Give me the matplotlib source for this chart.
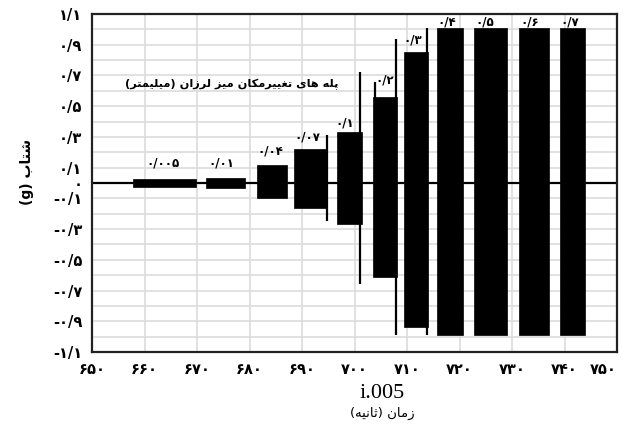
import matplotlib
matplotlib.use("Agg")
import matplotlib.pyplot as plt

# ---------------- data ----------------
burst_start = [657.8, 671.7, 681.4, 688.5, 696.7, 703.6, 709.4, 715.7, 722.8, 731.3, 739.1]
burst_end   = [669.8, 679.1, 687.1, 694.8, 701.4, 708.0, 714.0, 720.7, 729.0, 737.0, 743.9]
burst_upper = [0.025, 0.033, 0.115, 0.22, 0.33, 0.56, 0.85, 1.01, 1.01, 1.01, 1.01]
burst_lower = [-0.025, -0.033, -0.10, -0.16, -0.27, -0.61, -0.94, -0.99, -0.99, -0.99, -0.99]

spike_x  = [694.8, 701.1, 703.9, 707.9, 713.8]
spike_hi = [0.31, 0.72, 0.66, 0.94, 1.01]
spike_lo = [-0.25, -0.66, -0.55, -0.99, -0.99]

burst_labels = ["۰/۰۰۵", "۰/۰۱", "۰/۰۴", "۰/۰۷", "۰/۱", "۰/۲", "۰/۳", "۰/۴", "۰/۵", "۰/۶", "۰/۷"]
label_x = [663.5, 674.6, 683.9, 691.1, 698.2, 705.8, 711.0, 717.6, 724.9, 733.4, 741.0]
label_y = [0.13, 0.13, 0.21, 0.30, 0.39, 0.67, 0.93, 1.05, 1.05, 1.05, 1.05]

xticks = [650, 660, 670, 680, 690, 700, 710, 720, 730, 740, 750]
xtick_labels = ["۶۵۰", "۶۶۰", "۶۷۰", "۶۸۰", "۶۹۰", "۷۰۰", "۷۱۰", "۷۲۰", "۷۳۰", "۷۴۰", "۷۵۰"]
yticks = [-1.1, -0.9, -0.7, -0.5, -0.3, -0.1, 0.0, 0.1, 0.3, 0.5, 0.7, 0.9, 1.1]
ytick_labels = ["-۱/۱", "-۰/۹", "-۰/۷", "-۰/۵", "-۰/۳", "-۰/۱", "۰",
                "۰/۱", "۰/۳", "۰/۵", "۰/۷", "۰/۹", "۱/۱"]

title_text = "پله های تغییرمکان میز لرزان (میلیمتر)"
xlabel_text = "زمان (ثانیه)"
ylabel_text = "شتاب (g)"

# ---------------- minimal Persian shaping ----------------
FORMS = {
    'ا': ('\uFE8D', '\uFE8E', None, None),
    'ب': ('\uFE8F', '\uFE90', '\uFE91', '\uFE92'),
    'ت': ('\uFE95', '\uFE96', '\uFE97', '\uFE98'),
    'ث': ('\uFE99', '\uFE9A', '\uFE9B', '\uFE9C'),
    'ر': ('\uFEAD', '\uFEAE', None, None),
    'ز': ('\uFEAF', '\uFEB0', None, None),
    'ش': ('\uFEB5', '\uFEB6', '\uFEB7', '\uFEB8'),
    'غ': ('\uFECD', '\uFECE', '\uFECF', '\uFED0'),
    'ل': ('\uFEDD', '\uFEDE', '\uFEDF', '\uFEE0'),
    'م': ('\uFEE1', '\uFEE2', '\uFEE3', '\uFEE4'),
    'ن': ('\uFEE5', '\uFEE6', '\uFEE7', '\uFEE8'),
    'ه': ('\uFEE9', '\uFEEA', '\uFEEB', '\uFEEC'),
    'پ': ('\uFB56', '\uFB57', '\uFB58', '\uFB59'),
    'ک': ('\uFB8E', '\uFB8F', '\uFB90', '\uFB91'),
    'ی': ('\uFBFC', '\uFBFD', '\uFBFE', '\uFBFF'),
}


def dual(c):
    return c in FORMS and FORMS[c][2] is not None


def shape_word(w):
    out = []
    for i, c in enumerate(w):
        if c not in FORMS:
            out.append(c)
            continue
        prev_j = i > 0 and dual(w[i - 1])
        next_j = dual(c) and i + 1 < len(w) and w[i + 1] in FORMS
        iso, fin, ini, med = FORMS[c]
        if prev_j and next_j:
            out.append(med)
        elif prev_j:
            out.append(fin)
        elif next_j:
            out.append(ini)
        else:
            out.append(iso)
    return "".join(out)


MIRROR = {'(': ')', ')': '('}


def visual(text):
    words = text.split(" ")
    res = []
    for w in words:
        if any(c in FORMS for c in w):
            s = shape_word(w)[::-1]
            s = "".join(MIRROR.get(c, c) for c in s)
            res.append(s)
        else:
            res.append(w)
    return " ".join(res[::-1])


# ---------------- figure ----------------
plt.rcParams['font.family'] = ['DejaVu Sans']
fig = plt.figure(figsize=(6.26, 4.30), dpi=100)
ax = fig.add_axes([92 / 626, 1 - 352 / 430, (617 - 92) / 626, (352 - 14) / 430])

ax.set_xlim(650, 750)
ax.set_ylim(-1.1, 1.1)

# grid
for gx in xticks[1:-1]:
    ax.axvline(gx, color='#dcdcdc', lw=1.2, zorder=0)
for k in range(-10, 11):
    ax.axhline(k / 10, color='#dcdcdc', lw=1.2, zorder=0)

# zero baseline
ax.axhline(0, color='black', lw=1.6, zorder=2)

# bursts
for s, e, u, l in zip(burst_start, burst_end, burst_upper, burst_lower):
    ax.bar(s, u - l, width=e - s, bottom=l, align='edge', color='black',
           edgecolor='black', lw=0.5, zorder=3)
ax.vlines(spike_x, spike_lo, spike_hi, color='black', lw=1.6, zorder=3)

for t, x, y in zip(burst_labels, label_x, label_y):
    ax.text(x, y, t, ha='center', va='center', fontsize=8.5, fontweight='bold', zorder=4)

ax.text(676.7, 0.64, visual(title_text), ha='center', va='center', fontsize=8.2,
        fontweight='bold')

ax.set_xticks(xticks)
ax.set_xticklabels(xtick_labels, fontsize=10.5, fontweight='bold')
ax.set_yticks(yticks)
ax.set_yticklabels(ytick_labels, fontsize=10.5, fontweight='bold')
ax.tick_params(length=0, pad=7)
last = ax.get_xticklabels()[-1]
last.set_ha('right')

for sp in ax.spines.values():
    sp.set_linewidth(1.6)
    sp.set_color('#222222')

fig.text(382 / 626, 1 - 393 / 430, "i.005", family='Liberation Serif', fontsize=16,
         ha='center', va='center')
fig.text(382 / 626, 1 - 413 / 430, visual(xlabel_text), fontsize=9.5,
         ha='center', va='center')
fig.text(27 / 626, 1 - 172 / 430, visual(ylabel_text), fontsize=10, fontweight='bold',
         rotation=90, ha='center', va='center')

fig.savefig("out.png", dpi=100)
